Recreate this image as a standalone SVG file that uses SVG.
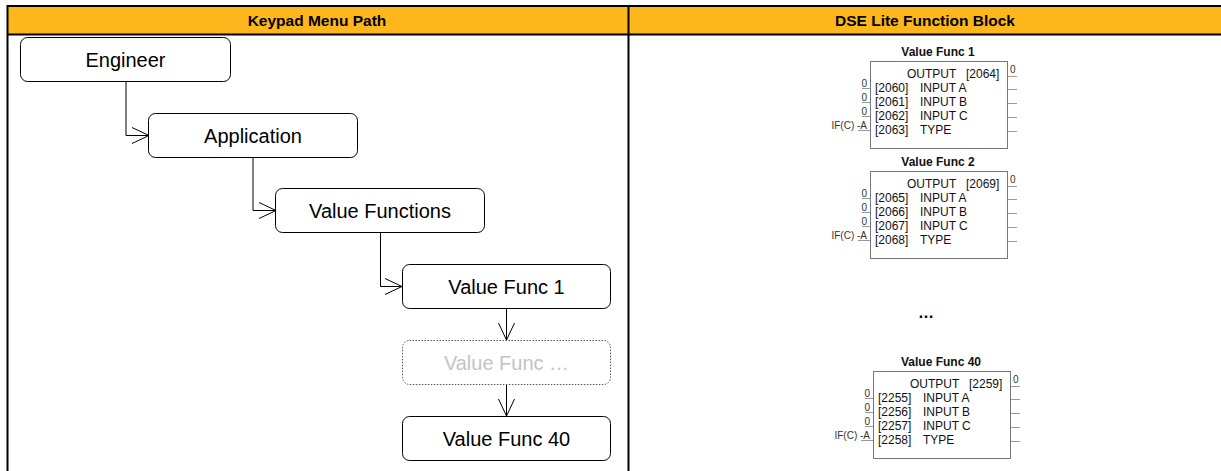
<svg xmlns="http://www.w3.org/2000/svg" width="1221" height="471" viewBox="0 0 1221 471">
<defs>
<style>
.hdr{font-family:"Liberation Sans",Arial,sans-serif;font-weight:bold;font-size:15.5px;fill:#000;text-anchor:middle}
.node rect{fill:#fff;stroke:#000;stroke-width:1}
.node text{font-family:"Liberation Sans",Arial,sans-serif;font-size:20px;fill:#000;text-anchor:middle}
.ghost rect{fill:#fff;stroke:#555;stroke-width:1;stroke-dasharray:1.5 1.5}
.ghost text{fill:#c4c4c4}
.conn{fill:none;stroke:#000;stroke-width:1}
.fb rect{fill:#fff;stroke:#777;stroke-width:1}
.fb text{font-family:"Liberation Sans",Arial,sans-serif;fill:#111}
.fb .t{font-weight:bold;font-size:12px;text-anchor:middle}
.fb .r{font-size:12px}
.fb .l{font-size:10px;text-anchor:end;fill:#333}
.fb .o{font-size:10px;fill:#333}
.fb line{stroke:#999;stroke-width:1}
</style>
<marker id="arr" viewBox="0 0 18 18" refX="17" refY="9" markerWidth="18" markerHeight="18" markerUnits="userSpaceOnUse" orient="auto">
<path d="M0,1 L17,9 L0,17" fill="none" stroke="#000" stroke-width="1"/>
</marker>
</defs>
<rect x="0" y="0" width="1221" height="471" fill="#fff"/>
<g id="table">
<rect x="7.5" y="6" width="1220" height="28.5" fill="#FDB71C"/>
<line x1="7" y1="6" x2="1221" y2="6" stroke="#000" stroke-width="2"/>
<line x1="7" y1="34.5" x2="1221" y2="34.5" stroke="#000" stroke-width="2"/>
<line x1="7.5" y1="5" x2="7.5" y2="471" stroke="#000" stroke-width="2"/>
<line x1="628.5" y1="5" x2="628.5" y2="471" stroke="#000" stroke-width="2"/>
<text class="hdr" x="317" y="25.5">Keypad Menu Path</text>
<text class="hdr" x="925" y="25.5">DSE Lite Function Block</text>
</g>
<g id="connectors">
<path class="conn" d="M126,82 V135.5 H149" marker-end="url(#arr)"/>
<path class="conn" d="M253,158 V210.5 H276" marker-end="url(#arr)"/>
<path class="conn" d="M380.5,233 V286.5 H402" marker-end="url(#arr)"/>
<path class="conn" d="M506.5,309 V340" marker-end="url(#arr)"/>
<path class="conn" d="M506.5,385 V416" marker-end="url(#arr)"/>
</g>
<g id="engineer" class="node"><rect x="20.5" y="37.5" width="210" height="44" rx="7"/><text x="125.5" y="66.5">Engineer</text></g>
<g id="application" class="node"><rect x="148.5" y="113.5" width="209" height="44" rx="7"/><text x="253" y="142.5">Application</text></g>
<g id="value-functions" class="node"><rect x="275.5" y="188.5" width="209" height="44" rx="7"/><text x="380" y="217.5">Value Functions</text></g>
<g id="value-func-1" class="node"><rect x="402.5" y="264.5" width="208" height="44" rx="7"/><text x="506.5" y="293.5">Value Func 1</text></g>
<g id="value-func-dots" class="node ghost"><rect x="402.5" y="340.5" width="208" height="44" rx="7"/><text x="506.5" y="369.5">Value Func …</text></g>
<g id="value-func-40" class="node"><rect x="402.5" y="416.5" width="208" height="44" rx="7"/><text x="506.5" y="445.5">Value Func 40</text></g>
<g id="fb-1" class="fb">
<text class="t" x="938" y="55.5">Value Func 1</text>
<rect x="870.5" y="61.5" width="137" height="87"/>
<text class="r" x="907" y="77.5">OUTPUT</text><text class="r" x="966" y="77.5">[2064]</text>
<text class="o" x="1010" y="73">0</text><line x1="1008" y1="76.5" x2="1017" y2="76.5"/>
<text class="r" x="875" y="92">[2060]</text><text class="r" x="920" y="92">INPUT A</text>
<text class="r" x="875" y="106">[2061]</text><text class="r" x="920" y="106">INPUT B</text>
<text class="r" x="875" y="120">[2062]</text><text class="r" x="920" y="120">INPUT C</text>
<text class="r" x="875" y="134">[2063]</text><text class="r" x="920" y="134">TYPE</text>
<text class="l" x="867" y="87">0</text><line x1="862" y1="88.5" x2="870" y2="88.5"/>
<text class="l" x="867" y="101">0</text><line x1="862" y1="102.5" x2="870" y2="102.5"/>
<text class="l" x="867" y="115">0</text><line x1="862" y1="116.5" x2="870" y2="116.5"/>
<text class="l" x="867" y="129">IF(C) -A</text><line x1="858" y1="130.5" x2="870" y2="130.5"/>
<line x1="1008" y1="89.5" x2="1017" y2="89.5"/><line x1="1008" y1="103.5" x2="1017" y2="103.5"/>
<line x1="1008" y1="117.5" x2="1017" y2="117.5"/><line x1="1008" y1="131.5" x2="1017" y2="131.5"/>
</g>
<g id="fb-2" class="fb" transform="translate(0,110)">
<text class="t" x="938" y="55.5">Value Func 2</text>
<rect x="870.5" y="61.5" width="137" height="87"/>
<text class="r" x="907" y="77.5">OUTPUT</text><text class="r" x="966" y="77.5">[2069]</text>
<text class="o" x="1010" y="73">0</text><line x1="1008" y1="76.5" x2="1017" y2="76.5"/>
<text class="r" x="875" y="92">[2065]</text><text class="r" x="920" y="92">INPUT A</text>
<text class="r" x="875" y="106">[2066]</text><text class="r" x="920" y="106">INPUT B</text>
<text class="r" x="875" y="120">[2067]</text><text class="r" x="920" y="120">INPUT C</text>
<text class="r" x="875" y="134">[2068]</text><text class="r" x="920" y="134">TYPE</text>
<text class="l" x="867" y="87">0</text><line x1="862" y1="88.5" x2="870" y2="88.5"/>
<text class="l" x="867" y="101">0</text><line x1="862" y1="102.5" x2="870" y2="102.5"/>
<text class="l" x="867" y="115">0</text><line x1="862" y1="116.5" x2="870" y2="116.5"/>
<text class="l" x="867" y="129">IF(C) -A</text><line x1="858" y1="130.5" x2="870" y2="130.5"/>
<line x1="1008" y1="89.5" x2="1017" y2="89.5"/><line x1="1008" y1="103.5" x2="1017" y2="103.5"/>
<line x1="1008" y1="117.5" x2="1017" y2="117.5"/><line x1="1008" y1="131.5" x2="1017" y2="131.5"/>
</g>
<g id="ellipsis"><text x="926" y="318" font-family="Liberation Sans, Arial, sans-serif" font-size="16" font-weight="bold" text-anchor="middle">…</text></g>
<g id="fb-40" class="fb" transform="translate(3,310)">
<text class="t" x="938" y="55.5">Value Func 40</text>
<rect x="870.5" y="61.5" width="137" height="87"/>
<text class="r" x="907" y="77.5">OUTPUT</text><text class="r" x="966" y="77.5">[2259]</text>
<text class="o" x="1010" y="73">0</text><line x1="1008" y1="76.5" x2="1017" y2="76.5"/>
<text class="r" x="875" y="92">[2255]</text><text class="r" x="920" y="92">INPUT A</text>
<text class="r" x="875" y="106">[2256]</text><text class="r" x="920" y="106">INPUT B</text>
<text class="r" x="875" y="120">[2257]</text><text class="r" x="920" y="120">INPUT C</text>
<text class="r" x="875" y="134">[2258]</text><text class="r" x="920" y="134">TYPE</text>
<text class="l" x="867" y="87">0</text><line x1="862" y1="88.5" x2="870" y2="88.5"/>
<text class="l" x="867" y="101">0</text><line x1="862" y1="102.5" x2="870" y2="102.5"/>
<text class="l" x="867" y="115">0</text><line x1="862" y1="116.5" x2="870" y2="116.5"/>
<text class="l" x="867" y="129">IF(C) -A</text><line x1="858" y1="130.5" x2="870" y2="130.5"/>
<line x1="1008" y1="89.5" x2="1017" y2="89.5"/><line x1="1008" y1="103.5" x2="1017" y2="103.5"/>
<line x1="1008" y1="117.5" x2="1017" y2="117.5"/><line x1="1008" y1="131.5" x2="1017" y2="131.5"/>
</g>
</svg>
